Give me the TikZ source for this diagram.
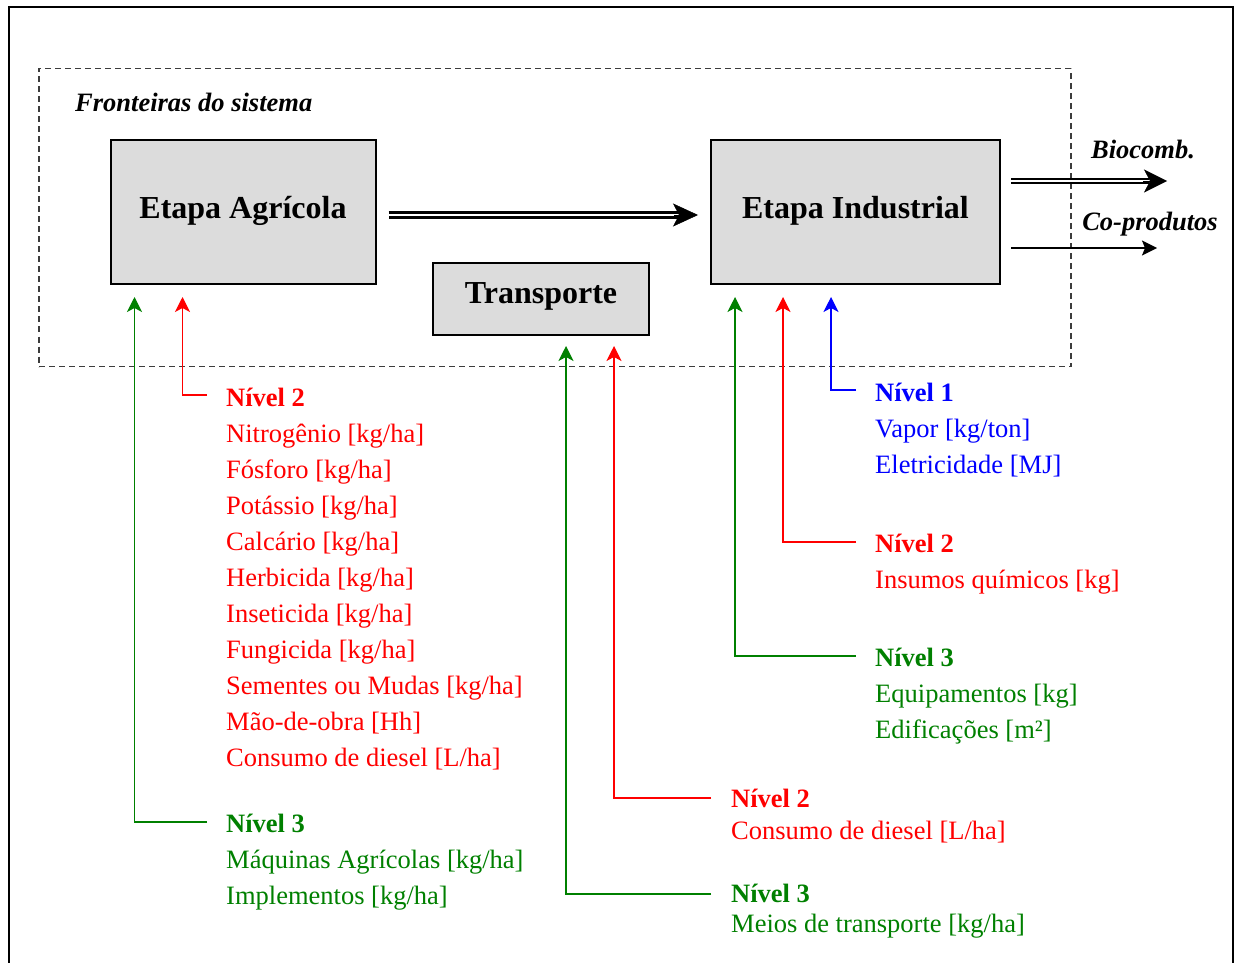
\documentclass[tikz,border=0pt]{standalone}
\usepackage{fontspec}
\setmainfont{Liberation Serif}
\usetikzlibrary{arrows.meta,calc}
\definecolor{cred}{RGB}{255,0,0}
\definecolor{cgreen}{RGB}{0,128,0}
\definecolor{cblue}{RGB}{0,0,255}
\definecolor{boxgray}{RGB}{220,220,220}
\definecolor{dashgray}{RGB}{60,60,60}
\begin{document}
\begin{tikzpicture}[x=1pt,y=-1pt,
  stage/.style={draw=black, line width=2pt, fill=boxgray, inner sep=0pt,
    font=\fontsize{32}{32}\selectfont\bfseries, text height=22pt, text depth=10pt},
  lbl/.style={anchor=base west, inner sep=0pt, font=\fontsize{26.5}{26.5}\selectfont},
  hd/.style={anchor=base west, inner sep=0pt, font=\fontsize{26.5}{26.5}\selectfont\bfseries},
  outlbl/.style={anchor=base, inner sep=0pt, font=\fontsize{26.5}{26.5}\selectfont\bfseries\itshape},
  feed/.style={line width=1.3pt, -{Stealth[length=15pt,width=15pt,inset=4pt]}},
  dbl/.style={line width=2.4pt, double distance=2.6pt, double=white},
  bighead/.style={line width=0.5pt, -{Stealth[length=25pt,width=23pt,inset=6pt]}},
  single/.style={line width=1.6pt, -{Stealth[length=15pt,width=15pt,inset=3pt]}}
]
\useasboundingbox (0,0) rectangle (1234,963);
% outer frame
\draw[line width=2pt] (9,980) -- (9,7) -- (1233,7) -- (1233,980);
% system boundary
\node[draw=dashgray, line width=1.2pt, dash pattern=on 6pt off 4pt, inner sep=0pt,
  minimum width=1032pt, minimum height=298pt] (bound) at (555,217.5) {};
\node[outlbl, anchor=base west] (front) at (75,112) {Fronteiras do sistema};

% stages
\node[stage, minimum width=265pt, minimum height=144pt] (agr) at (243,212) {Etapa Agrícola};
\node[stage, minimum width=289pt, minimum height=144pt] (ind) at (855.5,212) {Etapa Industrial};
\node[stage, minimum width=216pt, minimum height=72pt, text depth=14pt] (tra) at (541,299) {Transporte};

% main double arrow
\draw[dbl] ($(agr.east)+(12,3)$) -- ($(ind.west)+(-30,3)$);
\draw[bighead] ($(ind.west)+(-36,3)$) -- ($(ind.west)+(-12,3)$);

% outputs
\coordinate (bioEnd) at (1167,181);
\coordinate (coEnd) at (1157,248);
\draw[dbl, line width=2.2pt, double distance=2.4pt] ($(ind.east)+(10,-31)$) -- ($(bioEnd)+(-18,0)$);
\draw[bighead, -{Stealth[length=23pt,width=23pt,inset=6pt]}] ($(bioEnd)+(-24,0)$) -- (bioEnd);
\draw[single] ($(ind.east)+(10,36)$) -- (coEnd);
\node[outlbl] (bio) at (1143,158) {Biocomb.};
\node[outlbl] (cop) at (1150,230) {Co-produtos};

% ---- Agricultural inputs ----
\node[hd, text=cred] (a2) at (226,406) {Nível 2};
\foreach \t [count=\i] in {Nitrogênio [kg/ha], Fósforo [kg/ha], Potássio [kg/ha], Calcário [kg/ha],
  Herbicida [kg/ha], Inseticida [kg/ha], Fungicida [kg/ha], Sementes ou Mudas [kg/ha],
  Mão-de-obra [Hh], Consumo de diesel [L/ha]}
  \node[lbl, text=cred] (a2l\i) at (226,406+36*\i) {\t};
\node[hd, text=cgreen] (a3) at (226,832) {Nível 3};
\node[lbl, text=cgreen] (a3l1) at (226,868) {Máquinas Agrícolas [kg/ha]};
\node[lbl, text=cgreen] (a3l2) at (226,904) {Implementos [kg/ha]};

\draw[feed, cred] ($(a2.base west)+(-19,-11)$) -| ($(agr.south west)+(73,12)$);
\draw[feed, cgreen] ($(a3.base west)+(-19,-10)$) -| ($(agr.south west)+(25,12)$);

% ---- Transport inputs ----
\node[hd, text=cred] (t2) at (731,807) {Nível 2};
\node[lbl, text=cred] (t2l1) at (731,839) {Consumo de diesel [L/ha]};
\node[hd, text=cgreen] (t3) at (731,902) {Nível 3};
\node[lbl, text=cgreen] (t3l1) at (731,932) {Meios de transporte [kg/ha]};

\draw[feed, cred] ($(t2.base west)+(-20,-9)$) -| ($(tra.south west)+(182,10)$);
\draw[feed, cgreen] ($(t3.base west)+(-20,-8)$) -| ($(tra.south west)+(134,10)$);

% ---- Industrial inputs ----
\node[hd, text=cblue] (i1) at (875,401) {Nível 1};
\node[lbl, text=cblue] (i1l1) at (875,437) {Vapor [kg/ton]};
\node[lbl, text=cblue] (i1l2) at (875,473) {Eletricidade [MJ]};
\node[hd, text=cred] (i2) at (875,552) {Nível 2};
\node[lbl, text=cred] (i2l1) at (875,588) {Insumos químicos [kg]};
\node[hd, text=cgreen] (i3) at (875,666) {Nível 3};
\node[lbl, text=cgreen] (i3l1) at (875,702) {Equipamentos [kg]};
\node[lbl, text=cgreen] (i3l2) at (875,738) {Edificações [m²]};

\draw[feed, cblue] ($(i1.base west)+(-19,-11)$) -| ($(ind.south west)+(121,12)$);
\draw[feed, cred] ($(i2.base west)+(-19,-10)$) -| ($(ind.south west)+(73,12)$);
\draw[feed, cgreen] ($(i3.base west)+(-19,-10)$) -| ($(ind.south west)+(25,12)$);
\end{tikzpicture}
\end{document}
